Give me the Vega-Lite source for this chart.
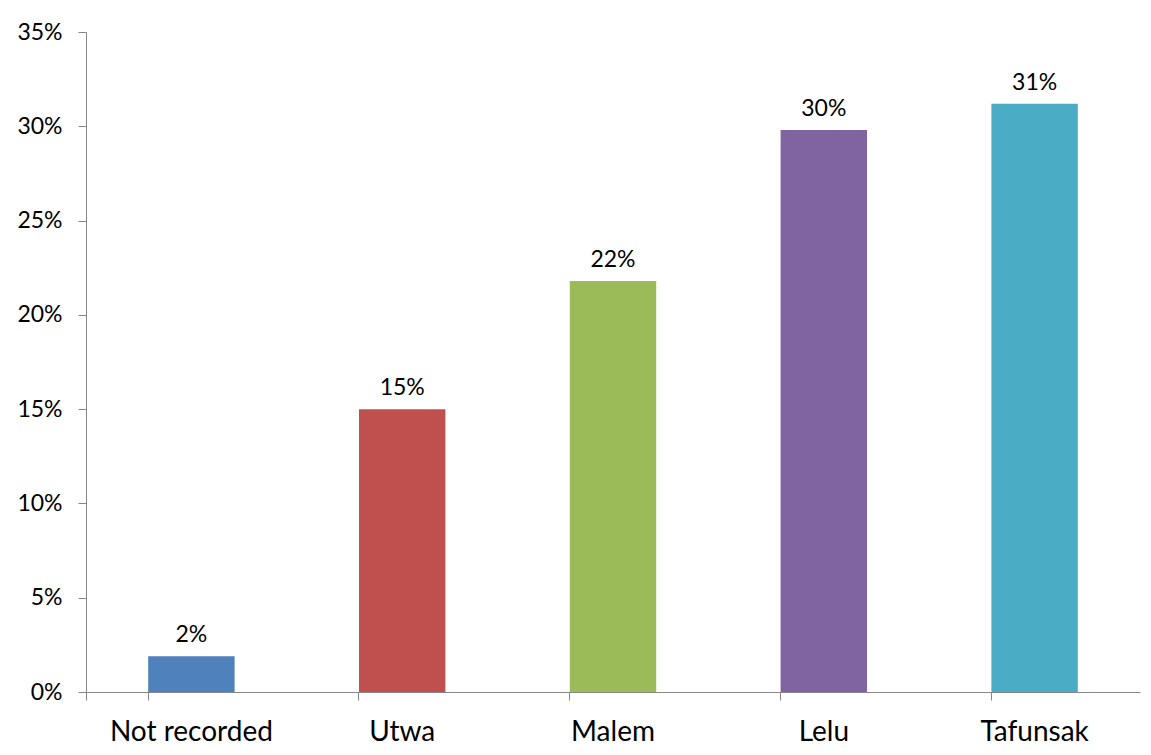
{
  "$schema": "https://vega.github.io/schema/vega-lite/v6.json",
  "autosize": {"type": "none"},
  "width": 1054,
  "height": 660,
  "padding": {"left": 86, "top": 32, "right": 11, "bottom": 63},
  "background": "white",
  "config": {"view": {"stroke": null}, "font": "Lato"},
  "data": {
    "values": [
      {"cat": "Not recorded", "value": 0.019, "label": "2%"},
      {"cat": "Utwa", "value": 0.150, "label": "15%"},
      {"cat": "Malem", "value": 0.218, "label": "22%"},
      {"cat": "Lelu", "value": 0.298, "label": "30%"},
      {"cat": "Tafunsak", "value": 0.312, "label": "31%"}
    ]
  },
  "encoding": {
    "x": {
      "field": "cat", "type": "nominal", "sort": null,
      "scale": {"paddingInner": 0.59, "paddingOuter": 0.295},
      "axis": {
        "title": null, "labelAngle": 0, "labelFontSize": 28, "labelColor": "black",
        "labelPadding": 18, "ticks": true, "bandPosition": 0, "tickExtra": true, "tickSize": 8, "tickWidth": 1,
        "tickColor": "#868686", "domainColor": "#868686", "labelFont": "Lato"
      }
    },
    "y": {
      "field": "value", "type": "quantitative",
      "scale": {"domain": [0, 0.35], "nice": false},
      "axis": {
        "title": null, "format": ".0%", "values": [0, 0.05, 0.1, 0.15, 0.2, 0.25, 0.3, 0.35],
        "grid": false, "labelFontSize": 23, "labelColor": "black", "labelPadding": 16,
        "tickSize": 8, "tickColor": "#868686", "domainColor": "#868686", "labelFont": "Lato"
      }
    }
  },
  "layer": [
    {
      "mark": {"type": "bar"},
      "encoding": {
        "color": {
          "field": "cat", "type": "nominal", "sort": null, "legend": null,
          "scale": {"range": ["#4F81BD", "#C0504D", "#9BBB59", "#8064A2", "#4BACC6"]}
        }
      }
    },
    {
      "mark": {"type": "text", "dy": -21, "fontSize": 23, "color": "black", "font": "Lato"},
      "encoding": {"text": {"field": "label"}}
    }
  ]
}
